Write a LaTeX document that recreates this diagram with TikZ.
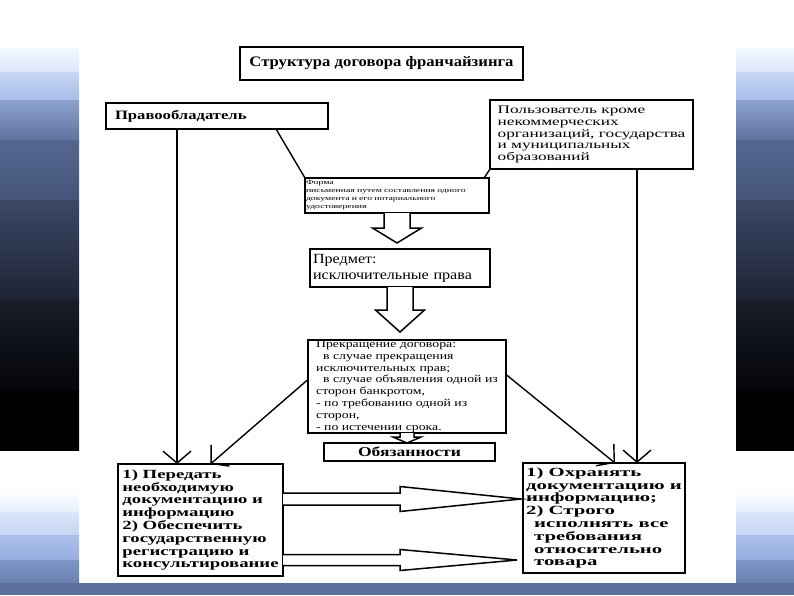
\documentclass[tikz,border=0pt]{standalone}
\usepackage{fontspec}
\setmainfont{Liberation Serif}
\newfontfamily\stretchA[FakeStretch=1.15]{Liberation Serif}
\newfontfamily\stretchB[FakeStretch=1.3]{Liberation Serif}
\newfontfamily\stretchC[FakeStretch=1.5]{Liberation Serif}
\newfontfamily\stretchD[FakeStretch=1.66]{Liberation Serif}
\usetikzlibrary{shapes,arrows,arrows.meta,positioning,calc}

\definecolor{bgA}{HTML}{F2F8FF}\definecolor{bgB}{HTML}{DCE7FA}
\definecolor{bgC}{HTML}{C6D6F3}\definecolor{bgD}{HTML}{A7BDE8}
\definecolor{bgE}{HTML}{8DA3D0}\definecolor{bgF}{HTML}{5F73A0}
\definecolor{bgG}{HTML}{55678F}\definecolor{bgH}{HTML}{44547A}
\definecolor{bgI}{HTML}{3B4967}\definecolor{bgJ}{HTML}{1D2334}
\definecolor{bgK}{HTML}{181D29}\definecolor{bgL}{HTML}{040508}
\definecolor{bgM}{HTML}{F5FBFF}\definecolor{bgN}{HTML}{E6F0FD}
\definecolor{bgO}{HTML}{DAE6FA}\definecolor{bgP}{HTML}{C6D5F3}
\definecolor{bgQ}{HTML}{AAC0EA}\definecolor{bgR}{HTML}{97AEE0}
\definecolor{bgS}{HTML}{7D96C6}\definecolor{bgT}{HTML}{6A80B0}
\definecolor{bgU}{HTML}{5B6F9D}

% hollow arrow down: from, to, shaft half, head half, head length, gap
\newcommand{\hollowdown}[6]{%
  \draw[hollow] let \p1=(#1.south), \p2=(#2.north) in
    (\x1-#3pt,\y1) -- (\x1-#3pt,\y2+#6pt+#5pt) -- (\x1-#4pt,\y2+#6pt+#5pt) -- (\x1,\y2+#6pt)
    -- (\x1+#4pt,\y2+#6pt+#5pt) -- (\x1+#3pt,\y2+#6pt+#5pt) -- (\x1+#3pt,\y1);}
% hollow arrow right: tail point, to, shaft half, head half, head length, gap
\newcommand{\hollowright}[6]{%
  \draw[hollow] let \p1=(#1), \p2=(#2.west) in
    (\x1,\y1+#3pt) -- (\x2-#6pt-#5pt,\y1+#3pt) -- (\x2-#6pt-#5pt,\y1+#4pt) -- (\x2-#6pt,\y1)
    -- (\x2-#6pt-#5pt,\y1-#4pt) -- (\x2-#6pt-#5pt,\y1-#3pt) -- (\x1,\y1-#3pt);}

\begin{document}
\begin{tikzpicture}[x=1pt,y=-1pt,
  box/.style={draw, line width=2pt, fill=white, anchor=north west, inner sep=0pt, outer sep=0pt},
  hollow/.style={draw, fill=white, line width=1.5pt, line join=miter},
  thinline/.style={line width=1.4pt},
  thinarrow/.style={line width=1.4pt, -{Straight Barb[length=12pt,width=28pt,line width=1.4pt]}}]
\useasboundingbox (0,0) rectangle (794,595);
\fill[white] (0,0) rectangle (794,595);

% slide background
\foreach \sx/\sw in {0/79,736/58}{
  \foreach \ya/\yb/\ca/\cb in {48/72/bgA/bgB, 72/100/bgC/bgD, 100/140/bgE/bgF, 140/200/bgG/bgH,
      200/300/bgI/bgJ, 300/390/bgK/bgL, 390/450/black/black,
      495/512/bgM/bgN, 512/535/bgO/bgP, 535/560/bgQ/bgR, 560/583/bgS/bgT}
    \shade[top color=\ca, bottom color=\cb] (\sx,\ya) rectangle (\sx+\sw,\yb);
}
\fill[bgU] (0,583) rectangle (794,595);

% boxes
\node[box, minimum width=283, minimum height=33, font={\stretchA\fontsize{14.5}{16}\selectfont\bfseries}]
  (title) at (240,47) {Структура договора франчайзинга};
\node[box, text width=204, inner xsep=9, minimum height=26, align=left,
  font={\stretchB\fontsize{12.8}{14}\selectfont\bfseries}]
  (pravo) at (106,103) {Правообладатель};
\node[box, minimum width=203, minimum height=69, align=left,
  font={\stretchC\fontsize{11.5}{11.8}\selectfont}]
  (polz) at (490,100) {Пользователь кроме\\некоммерческих\\организаций, государства\\и муниципальных\\образований};
\node[box, text width=182, inner xsep=1, minimum height=35, align=left,
  font={\stretchC\fontsize{6.5}{8}\selectfont}]
  (forma) at (305,178) {Форма\\письменная путем составления одного\\документа и его нотариального\\удостоверения};
\node[box, text width=174, inner xsep=3, minimum height=38, align=left,
  font={\stretchA\fontsize{14}{16}\selectfont}]
  (predmet) at (310,249) {Предмет:\\исключительные права};
\node[box, minimum width=198, minimum height=93, align=left,
  font={\stretchB\fontsize{10.6}{11.8}\selectfont}]
  (prekr) at (308,340) {Прекращение договора:\\\hspace*{7pt}в случае прекращения\\исключительных прав;\\\hspace*{7pt}в случае объявления одной из\\сторон банкротом,\\- по требованию одной из\\сторон,\\- по истечении срока.};
\node[box, minimum width=171, minimum height=18, font={\stretchB\fontsize{13.5}{14}\selectfont\bfseries}]
  (obyaz) at (324,443) {Обязанности};
\node[box, minimum width=165, minimum height=112, align=left,
  font={\stretchC\fontsize{12.5}{12.8}\selectfont\bfseries}]
  (peredat) at (118,464) {1) Передать\\необходимую\\документацию и\\информацию\\2) Обеспечить\\государственную\\регистрацию и\\консультирование};
\node[box, minimum width=162, minimum height=110, align=left,
  font={\stretchD\fontsize{12.5}{12.8}\selectfont\bfseries}]
  (ohran) at (523,463) {1) Охранять\\документацию и\\информацию;\\2) Строго\\\hspace*{8pt}исполнять все\\\hspace*{8pt}требования\\\hspace*{8pt}относительно\\\hspace*{8pt}товара};

% connectors
\draw[thinarrow] ($(pravo.south west)+(71,0)$) coordinate (p1) -- (p1 |- peredat.north);
\draw[thinline] ($(pravo.south east)+(-52,0)$) -- (forma.north west);
\draw[thinline] (polz.south west) -- ($(forma.north east)+(-5,0)$);
\draw[thinarrow] ($(polz.south east)+(-56,0)$) coordinate (p2) -- (p2 |- ohran.north);
\draw[thinarrow] ($(prekr.west)+(0,-7)$) -- ($(peredat.north)+(10,0)$);
\draw[thinarrow] ($(prekr.east)+(0,-12)$) -- ($(ohran.north)+(11,0)$);

\hollowdown{forma}{predmet}{13}{24.5}{15}{6}
\hollowdown{predmet}{prekr}{13}{24.5}{22}{8}
\hollowdown{prekr}{obyaz}{7}{14}{6}{0}
\hollowright{$(peredat.east)+(0,-21)$}{ohran}{6}{12.5}{121}{2}
\hollowright{$(peredat.east)+(0,40)$}{ohran}{5.5}{10.5}{117}{6}
\end{tikzpicture}
\end{document}
